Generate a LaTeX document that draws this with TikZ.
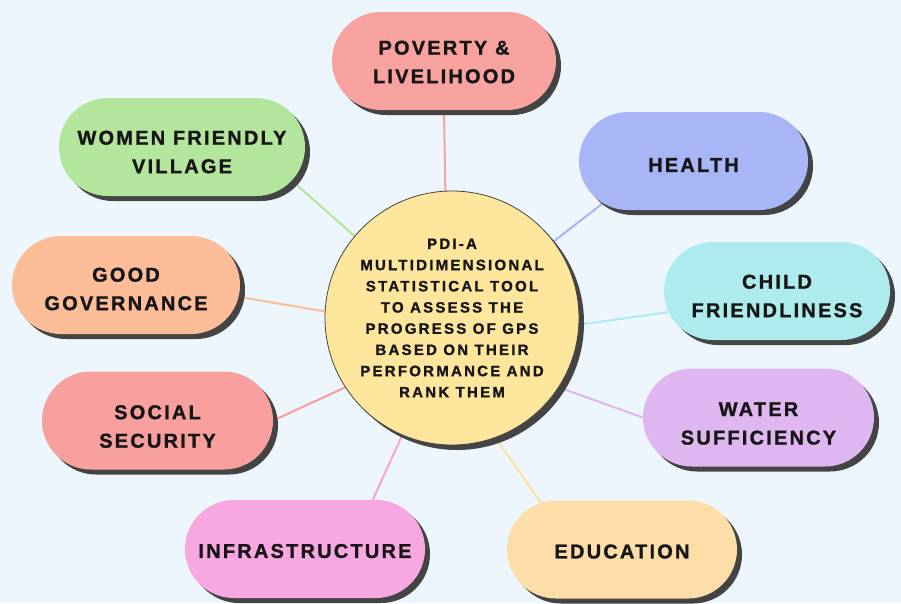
\documentclass[tikz,border=0pt]{standalone}
\usepackage{fontspec}
\setmainfont{Liberation Sans}
\usetikzlibrary{shapes.misc,shadows}
\definecolor{bgc}{HTML}{EDF6FC}
\definecolor{povc}{HTML}{F9A3A0}
\definecolor{womc}{HTML}{B4E59C}
\definecolor{heac}{HTML}{A8B5F7}
\definecolor{govc}{HTML}{FDBD98}
\definecolor{chic}{HTML}{AEEBEE}
\definecolor{socc}{HTML}{F8A09E}
\definecolor{watc}{HTML}{E0B6F0}
\definecolor{infc}{HTML}{F8A8E0}
\definecolor{educ}{HTML}{FDDDA8}
\definecolor{cenc}{HTML}{FEE69C}
\definecolor{shc}{HTML}{444444}
\definecolor{txc}{HTML}{161616}
\pgfdeclarelayer{bgl}
\pgfsetlayers{bgl,main}
\tikzset{
  pill/.style={rounded rectangle, minimum height=98pt, inner sep=0pt,
    fill=#1,
    drop shadow={shadow xshift=5pt, shadow yshift=-5pt, fill=shc, opacity=1}},
  ptxt/.style={text=txc, align=center, inner sep=0pt,
    font=\bfseries\addfontfeatures{LetterSpace=11,FakeBold=1.2}\fontsize{20}{28.5}\selectfont},
  hub/.style={circle, minimum size=254pt, inner sep=0pt, fill=cenc, draw=shc, line width=0.8pt,
    text=txc, align=center,
    font=\bfseries\addfontfeatures{LetterSpace=15,FakeBold=1.2}\fontsize{15}{21.2}\selectfont,
    drop shadow={shadow xshift=5pt, shadow yshift=-5pt, fill=shc, opacity=1}},
  link/.style={draw=#1, line width=2pt}
}
\begin{document}
\begin{tikzpicture}[x=1pt,y=-1pt]
\useasboundingbox (0,0) rectangle (901,603);
\node[hub] (c) at (452,318) {PDI-A\\MULTIDIMENSIONAL\\STATISTICAL TOOL\\TO ASSESS THE\\PROGRESS OF GPS\\BASED ON THEIR\\PERFORMANCE AND\\RANK THEM};
\node[pill=povc, minimum width=224pt, label={[ptxt, yshift=-1pt]center:POVERTY \&\\LIVELIHOOD}] (pov) at (444,61) {};
\node[pill=womc, minimum width=246pt, label={[ptxt, yshift=-5pt]center:WOMEN FRIENDLY\\VILLAGE}] (wom) at (182,147) {};
\node[pill=heac, minimum width=229pt, label={[ptxt, yshift=-4pt]center:HEALTH}] (hea) at (693.5,161) {};
\node[pill=govc, minimum width=228pt, label={[ptxt, yshift=-4pt]center:GOOD\\GOVERNANCE}] (gov) at (126,285) {};
\node[pill=chic, minimum width=226pt, label={[ptxt, yshift=-5pt]center:CHILD\\FRIENDLINESS}] (chi) at (777,291) {};
\node[pill=socc, minimum width=231pt, label={[ptxt, yshift=-6pt]center:SOCIAL\\SECURITY}] (soc) at (157.5,420.5) {};
\node[pill=watc, minimum width=231pt, label={[ptxt, yshift=-6pt]center:WATER\\SUFFICIENCY}] (wat) at (758.5,417.5) {};
\node[pill=infc, minimum width=240pt, label={[ptxt, yshift=-2pt]center:INFRASTRUCTURE}] (inf) at (305,549) {};
\node[pill=educ, minimum width=230pt, label={[ptxt, yshift=-2pt]center:EDUCATION}] (edu) at (622,549.5) {};
\begin{pgfonlayer}{bgl}
\fill[bgc] (0,0) rectangle (901,603);
\draw[link=povc] (pov.south) -- (c.93);
\draw[link=womc] (wom.-17) -- (c.140);
\draw[link=heac] (hea.205) -- (c.37);
\draw[link=govc] (gov.-6) -- (c.177);
\draw[link=chic] (chi.191) -- (c.-3);
\draw[link=socc] (soc.0) -- (c.213);
\draw[link=watc] (wat.180) -- (c.-33);
\draw[link=infc!70!povc] (inf.36) -- (c.247);
\draw[link=educ!60!cenc] (edu.150) -- (c.-70);
\end{pgfonlayer}
\end{tikzpicture}
\end{document}
